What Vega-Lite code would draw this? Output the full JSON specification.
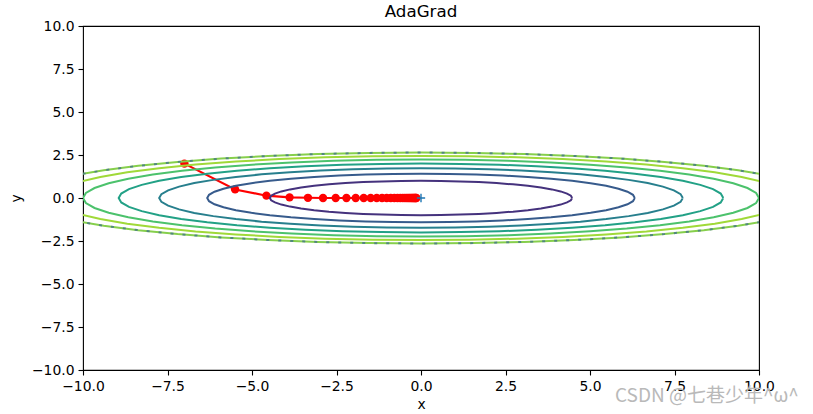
{
"$schema": "https://vega.github.io/schema/vega-lite/v6.json",
"autosize": {"type": "none"},
"padding": {"left": 83, "top": 26, "right": 54, "bottom": 44},
"width": 676,
"height": 344,
"background": "white",
"title": {"text": "AdaGrad", "font": "DejaVu Sans", "fontSize": 16.7, "fontWeight": "normal", "color": "black", "anchor": "middle", "frame": "group", "offset": -2},
"datasets": {
"path": [
{"k":0,"x":-7,"y":2},{"k":1,"x":-5.5,"y":0.5},{"k":2,"x":-4.5733,"y":0.1362},{"k":3,"x":-3.8879,"y":0.0373},{"k":4,"x":-3.3447,"y":0.0102},{"k":5,"x":-2.8986,"y":0.0028},{"k":6,"x":-2.5242,"y":0.0008},{"k":7,"x":-2.2056,"y":0.0002},{"k":8,"x":-1.9319,"y":0},{"k":9,"x":-1.6952,"y":0},{"k":10,"x":-1.4894,"y":0},{"k":11,"x":-1.3099,"y":0},{"k":12,"x":-1.1529,"y":0},{"k":13,"x":-1.0153,"y":0},{"k":14,"x":-0.8945,"y":0},{"k":15,"x":-0.7884,"y":0},{"k":16,"x":-0.695,"y":0},{"k":17,"x":-0.6128,"y":0},{"k":18,"x":-0.5404,"y":0},{"k":19,"x":-0.4766,"y":0},{"k":20,"x":-0.4204,"y":0},{"k":21,"x":-0.3709,"y":0},{"k":22,"x":-0.3272,"y":0},{"k":23,"x":-0.2887,"y":0},{"k":24,"x":-0.2547,"y":0},{"k":25,"x":-0.2247,"y":0},{"k":26,"x":-0.1983,"y":0},{"k":27,"x":-0.1749,"y":0},{"k":28,"x":-0.1543,"y":0},{"k":29,"x":-0.1362,"y":0}
],
"origin": [{"x":0,"y":0}],
"ell": [
{"c":1,"k":0,"x":4.472,"y":0},{"c":1,"k":1,"x":4.434,"y":0.131},{"c":1,"k":2,"x":4.32,"y":0.259},{"c":1,"k":3,"x":4.132,"y":0.383},{"c":1,"k":4,"x":3.873,"y":0.5},{"c":1,"k":5,"x":3.548,"y":0.609},{"c":1,"k":6,"x":3.162,"y":0.707},{"c":1,"k":7,"x":2.722,"y":0.793},{"c":1,"k":8,"x":2.236,"y":0.866},{"c":1,"k":9,"x":1.711,"y":0.924},{"c":1,"k":10,"x":1.157,"y":0.966},{"c":1,"k":11,"x":0.584,"y":0.991},{"c":1,"k":12,"x":0,"y":1},
{"c":1,"k":13,"x":-0.584,"y":0.991},{"c":1,"k":14,"x":-1.157,"y":0.966},{"c":1,"k":15,"x":-1.711,"y":0.924},{"c":1,"k":16,"x":-2.236,"y":0.866},{"c":1,"k":17,"x":-2.722,"y":0.793},{"c":1,"k":18,"x":-3.162,"y":0.707},{"c":1,"k":19,"x":-3.548,"y":0.609},{"c":1,"k":20,"x":-3.873,"y":0.5},{"c":1,"k":21,"x":-4.132,"y":0.383},{"c":1,"k":22,"x":-4.32,"y":0.259},{"c":1,"k":23,"x":-4.434,"y":0.131},{"c":1,"k":24,"x":-4.472,"y":0},
{"c":1,"k":25,"x":-4.434,"y":-0.131},{"c":1,"k":26,"x":-4.32,"y":-0.259},{"c":1,"k":27,"x":-4.132,"y":-0.383},{"c":1,"k":28,"x":-3.873,"y":-0.5},{"c":1,"k":29,"x":-3.548,"y":-0.609},{"c":1,"k":30,"x":-3.162,"y":-0.707},{"c":1,"k":31,"x":-2.722,"y":-0.793},{"c":1,"k":32,"x":-2.236,"y":-0.866},{"c":1,"k":33,"x":-1.711,"y":-0.924},{"c":1,"k":34,"x":-1.157,"y":-0.966},{"c":1,"k":35,"x":-0.584,"y":-0.991},{"c":1,"k":36,"x":0,"y":-1},
{"c":1,"k":37,"x":0.584,"y":-0.991},{"c":1,"k":38,"x":1.157,"y":-0.966},{"c":1,"k":39,"x":1.711,"y":-0.924},{"c":1,"k":40,"x":2.236,"y":-0.866},{"c":1,"k":41,"x":2.722,"y":-0.793},{"c":1,"k":42,"x":3.162,"y":-0.707},{"c":1,"k":43,"x":3.548,"y":-0.609},{"c":1,"k":44,"x":3.873,"y":-0.5},{"c":1,"k":45,"x":4.132,"y":-0.383},{"c":1,"k":46,"x":4.32,"y":-0.259},{"c":1,"k":47,"x":4.434,"y":-0.131},{"c":1,"k":48,"x":4.472,"y":0},

{"c":2,"k":0,"x":6.325,"y":0},{"c":2,"k":1,"x":6.271,"y":0.185},{"c":2,"k":2,"x":6.109,"y":0.366},{"c":2,"k":3,"x":5.843,"y":0.541},{"c":2,"k":4,"x":5.477,"y":0.707},{"c":2,"k":5,"x":5.018,"y":0.861},{"c":2,"k":6,"x":4.472,"y":1},{"c":2,"k":7,"x":3.85,"y":1.122},{"c":2,"k":8,"x":3.162,"y":1.225},{"c":2,"k":9,"x":2.42,"y":1.307},{"c":2,"k":10,"x":1.637,"y":1.366},{"c":2,"k":11,"x":0.826,"y":1.402},{"c":2,"k":12,"x":0,"y":1.414},
{"c":2,"k":13,"x":-0.826,"y":1.402},{"c":2,"k":14,"x":-1.637,"y":1.366},{"c":2,"k":15,"x":-2.42,"y":1.307},{"c":2,"k":16,"x":-3.162,"y":1.225},{"c":2,"k":17,"x":-3.85,"y":1.122},{"c":2,"k":18,"x":-4.472,"y":1},{"c":2,"k":19,"x":-5.018,"y":0.861},{"c":2,"k":20,"x":-5.477,"y":0.707},{"c":2,"k":21,"x":-5.843,"y":0.541},{"c":2,"k":22,"x":-6.109,"y":0.366},{"c":2,"k":23,"x":-6.271,"y":0.185},{"c":2,"k":24,"x":-6.325,"y":0},
{"c":2,"k":25,"x":-6.271,"y":-0.185},{"c":2,"k":26,"x":-6.109,"y":-0.366},{"c":2,"k":27,"x":-5.843,"y":-0.541},{"c":2,"k":28,"x":-5.477,"y":-0.707},{"c":2,"k":29,"x":-5.018,"y":-0.861},{"c":2,"k":30,"x":-4.472,"y":-1},{"c":2,"k":31,"x":-3.85,"y":-1.122},{"c":2,"k":32,"x":-3.162,"y":-1.225},{"c":2,"k":33,"x":-2.42,"y":-1.307},{"c":2,"k":34,"x":-1.637,"y":-1.366},{"c":2,"k":35,"x":-0.826,"y":-1.402},{"c":2,"k":36,"x":0,"y":-1.414},
{"c":2,"k":37,"x":0.826,"y":-1.402},{"c":2,"k":38,"x":1.637,"y":-1.366},{"c":2,"k":39,"x":2.42,"y":-1.307},{"c":2,"k":40,"x":3.162,"y":-1.225},{"c":2,"k":41,"x":3.85,"y":-1.122},{"c":2,"k":42,"x":4.472,"y":-1},{"c":2,"k":43,"x":5.018,"y":-0.861},{"c":2,"k":44,"x":5.477,"y":-0.707},{"c":2,"k":45,"x":5.843,"y":-0.541},{"c":2,"k":46,"x":6.109,"y":-0.366},{"c":2,"k":47,"x":6.271,"y":-0.185},{"c":2,"k":48,"x":6.325,"y":0},

{"c":3,"k":0,"x":7.746,"y":0},{"c":3,"k":1,"x":7.68,"y":0.226},{"c":3,"k":2,"x":7.482,"y":0.448},{"c":3,"k":3,"x":7.156,"y":0.663},{"c":3,"k":4,"x":6.708,"y":0.866},{"c":3,"k":5,"x":6.145,"y":1.054},{"c":3,"k":6,"x":5.477,"y":1.225},{"c":3,"k":7,"x":4.716,"y":1.374},{"c":3,"k":8,"x":3.873,"y":1.5},{"c":3,"k":9,"x":2.964,"y":1.6},{"c":3,"k":10,"x":2.005,"y":1.673},{"c":3,"k":11,"x":1.011,"y":1.717},{"c":3,"k":12,"x":0,"y":1.732},
{"c":3,"k":13,"x":-1.011,"y":1.717},{"c":3,"k":14,"x":-2.005,"y":1.673},{"c":3,"k":15,"x":-2.964,"y":1.6},{"c":3,"k":16,"x":-3.873,"y":1.5},{"c":3,"k":17,"x":-4.716,"y":1.374},{"c":3,"k":18,"x":-5.477,"y":1.225},{"c":3,"k":19,"x":-6.145,"y":1.054},{"c":3,"k":20,"x":-6.708,"y":0.866},{"c":3,"k":21,"x":-7.156,"y":0.663},{"c":3,"k":22,"x":-7.482,"y":0.448},{"c":3,"k":23,"x":-7.68,"y":0.226},{"c":3,"k":24,"x":-7.746,"y":0},
{"c":3,"k":25,"x":-7.68,"y":-0.226},{"c":3,"k":26,"x":-7.482,"y":-0.448},{"c":3,"k":27,"x":-7.156,"y":-0.663},{"c":3,"k":28,"x":-6.708,"y":-0.866},{"c":3,"k":29,"x":-6.145,"y":-1.054},{"c":3,"k":30,"x":-5.477,"y":-1.225},{"c":3,"k":31,"x":-4.716,"y":-1.374},{"c":3,"k":32,"x":-3.873,"y":-1.5},{"c":3,"k":33,"x":-2.964,"y":-1.6},{"c":3,"k":34,"x":-2.005,"y":-1.673},{"c":3,"k":35,"x":-1.011,"y":-1.717},{"c":3,"k":36,"x":0,"y":-1.732},
{"c":3,"k":37,"x":1.011,"y":-1.717},{"c":3,"k":38,"x":2.005,"y":-1.673},{"c":3,"k":39,"x":2.964,"y":-1.6},{"c":3,"k":40,"x":3.873,"y":-1.5},{"c":3,"k":41,"x":4.716,"y":-1.374},{"c":3,"k":42,"x":5.477,"y":-1.225},{"c":3,"k":43,"x":6.145,"y":-1.054},{"c":3,"k":44,"x":6.708,"y":-0.866},{"c":3,"k":45,"x":7.156,"y":-0.663},{"c":3,"k":46,"x":7.482,"y":-0.448},{"c":3,"k":47,"x":7.68,"y":-0.226},{"c":3,"k":48,"x":7.746,"y":0},

{"c":4,"k":0,"x":8.944,"y":0},{"c":4,"k":1,"x":8.868,"y":0.261},{"c":4,"k":2,"x":8.64,"y":0.518},{"c":4,"k":3,"x":8.263,"y":0.765},{"c":4,"k":4,"x":7.746,"y":1},{"c":4,"k":5,"x":7.096,"y":1.218},{"c":4,"k":6,"x":6.325,"y":1.414},{"c":4,"k":7,"x":5.445,"y":1.587},{"c":4,"k":8,"x":4.472,"y":1.732},{"c":4,"k":9,"x":3.423,"y":1.848},{"c":4,"k":10,"x":2.315,"y":1.932},{"c":4,"k":11,"x":1.168,"y":1.983},{"c":4,"k":12,"x":0,"y":2},
{"c":4,"k":13,"x":-1.168,"y":1.983},{"c":4,"k":14,"x":-2.315,"y":1.932},{"c":4,"k":15,"x":-3.423,"y":1.848},{"c":4,"k":16,"x":-4.472,"y":1.732},{"c":4,"k":17,"x":-5.445,"y":1.587},{"c":4,"k":18,"x":-6.325,"y":1.414},{"c":4,"k":19,"x":-7.096,"y":1.218},{"c":4,"k":20,"x":-7.746,"y":1},{"c":4,"k":21,"x":-8.263,"y":0.765},{"c":4,"k":22,"x":-8.64,"y":0.518},{"c":4,"k":23,"x":-8.868,"y":0.261},{"c":4,"k":24,"x":-8.944,"y":0},
{"c":4,"k":25,"x":-8.868,"y":-0.261},{"c":4,"k":26,"x":-8.64,"y":-0.518},{"c":4,"k":27,"x":-8.263,"y":-0.765},{"c":4,"k":28,"x":-7.746,"y":-1},{"c":4,"k":29,"x":-7.096,"y":-1.218},{"c":4,"k":30,"x":-6.325,"y":-1.414},{"c":4,"k":31,"x":-5.445,"y":-1.587},{"c":4,"k":32,"x":-4.472,"y":-1.732},{"c":4,"k":33,"x":-3.423,"y":-1.848},{"c":4,"k":34,"x":-2.315,"y":-1.932},{"c":4,"k":35,"x":-1.168,"y":-1.983},{"c":4,"k":36,"x":0,"y":-2},
{"c":4,"k":37,"x":1.168,"y":-1.983},{"c":4,"k":38,"x":2.315,"y":-1.932},{"c":4,"k":39,"x":3.423,"y":-1.848},{"c":4,"k":40,"x":4.472,"y":-1.732},{"c":4,"k":41,"x":5.445,"y":-1.587},{"c":4,"k":42,"x":6.325,"y":-1.414},{"c":4,"k":43,"x":7.096,"y":-1.218},{"c":4,"k":44,"x":7.746,"y":-1},{"c":4,"k":45,"x":8.263,"y":-0.765},{"c":4,"k":46,"x":8.64,"y":-0.518},{"c":4,"k":47,"x":8.868,"y":-0.261},{"c":4,"k":48,"x":8.944,"y":0},

{"c":5,"k":0,"x":10,"y":0},{"c":5,"k":1,"x":9.914,"y":0.292},{"c":5,"k":2,"x":9.659,"y":0.579},{"c":5,"k":3,"x":9.239,"y":0.856},{"c":5,"k":4,"x":8.66,"y":1.118},{"c":5,"k":5,"x":7.934,"y":1.361},{"c":5,"k":6,"x":7.071,"y":1.581},{"c":5,"k":7,"x":6.088,"y":1.774},{"c":5,"k":8,"x":5,"y":1.937},{"c":5,"k":9,"x":3.827,"y":2.066},{"c":5,"k":10,"x":2.588,"y":2.16},{"c":5,"k":11,"x":1.305,"y":2.217},{"c":5,"k":12,"x":0,"y":2.236},
{"c":5,"k":13,"x":-1.305,"y":2.217},{"c":5,"k":14,"x":-2.588,"y":2.16},{"c":5,"k":15,"x":-3.827,"y":2.066},{"c":5,"k":16,"x":-5,"y":1.937},{"c":5,"k":17,"x":-6.088,"y":1.774},{"c":5,"k":18,"x":-7.071,"y":1.581},{"c":5,"k":19,"x":-7.934,"y":1.361},{"c":5,"k":20,"x":-8.66,"y":1.118},{"c":5,"k":21,"x":-9.239,"y":0.856},{"c":5,"k":22,"x":-9.659,"y":0.579},{"c":5,"k":23,"x":-9.914,"y":0.292},{"c":5,"k":24,"x":-10,"y":0},
{"c":5,"k":25,"x":-9.914,"y":-0.292},{"c":5,"k":26,"x":-9.659,"y":-0.579},{"c":5,"k":27,"x":-9.239,"y":-0.856},{"c":5,"k":28,"x":-8.66,"y":-1.118},{"c":5,"k":29,"x":-7.934,"y":-1.361},{"c":5,"k":30,"x":-7.071,"y":-1.581},{"c":5,"k":31,"x":-6.088,"y":-1.774},{"c":5,"k":32,"x":-5,"y":-1.937},{"c":5,"k":33,"x":-3.827,"y":-2.066},{"c":5,"k":34,"x":-2.588,"y":-2.16},{"c":5,"k":35,"x":-1.305,"y":-2.217},{"c":5,"k":36,"x":0,"y":-2.236},
{"c":5,"k":37,"x":1.305,"y":-2.217},{"c":5,"k":38,"x":2.588,"y":-2.16},{"c":5,"k":39,"x":3.827,"y":-2.066},{"c":5,"k":40,"x":5,"y":-1.937},{"c":5,"k":41,"x":6.088,"y":-1.774},{"c":5,"k":42,"x":7.071,"y":-1.581},{"c":5,"k":43,"x":7.934,"y":-1.361},{"c":5,"k":44,"x":8.66,"y":-1.118},{"c":5,"k":45,"x":9.239,"y":-0.856},{"c":5,"k":46,"x":9.659,"y":-0.579},{"c":5,"k":47,"x":9.914,"y":-0.292},{"c":5,"k":48,"x":10,"y":0},

{"c":6,"k":0,"x":10.954,"y":0},{"c":6,"k":1,"x":10.861,"y":0.32},{"c":6,"k":2,"x":10.581,"y":0.634},{"c":6,"k":3,"x":10.121,"y":0.937},{"c":6,"k":4,"x":9.487,"y":1.225},{"c":6,"k":5,"x":8.691,"y":1.491},{"c":6,"k":6,"x":7.746,"y":1.732},{"c":6,"k":7,"x":6.669,"y":1.943},{"c":6,"k":8,"x":5.477,"y":2.121},{"c":6,"k":9,"x":4.192,"y":2.263},{"c":6,"k":10,"x":2.835,"y":2.366},{"c":6,"k":11,"x":1.43,"y":2.429},{"c":6,"k":12,"x":0,"y":2.449},
{"c":6,"k":13,"x":-1.43,"y":2.429},{"c":6,"k":14,"x":-2.835,"y":2.366},{"c":6,"k":15,"x":-4.192,"y":2.263},{"c":6,"k":16,"x":-5.477,"y":2.121},{"c":6,"k":17,"x":-6.669,"y":1.943},{"c":6,"k":18,"x":-7.746,"y":1.732},{"c":6,"k":19,"x":-8.691,"y":1.491},{"c":6,"k":20,"x":-9.487,"y":1.225},{"c":6,"k":21,"x":-10.121,"y":0.937},{"c":6,"k":22,"x":-10.581,"y":0.634},{"c":6,"k":23,"x":-10.861,"y":0.32},{"c":6,"k":24,"x":-10.954,"y":0},
{"c":6,"k":25,"x":-10.861,"y":-0.32},{"c":6,"k":26,"x":-10.581,"y":-0.634},{"c":6,"k":27,"x":-10.121,"y":-0.937},{"c":6,"k":28,"x":-9.487,"y":-1.225},{"c":6,"k":29,"x":-8.691,"y":-1.491},{"c":6,"k":30,"x":-7.746,"y":-1.732},{"c":6,"k":31,"x":-6.669,"y":-1.943},{"c":6,"k":32,"x":-5.477,"y":-2.121},{"c":6,"k":33,"x":-4.192,"y":-2.263},{"c":6,"k":34,"x":-2.835,"y":-2.366},{"c":6,"k":35,"x":-1.43,"y":-2.429},{"c":6,"k":36,"x":0,"y":-2.449},
{"c":6,"k":37,"x":1.43,"y":-2.429},{"c":6,"k":38,"x":2.835,"y":-2.366},{"c":6,"k":39,"x":4.192,"y":-2.263},{"c":6,"k":40,"x":5.477,"y":-2.121},{"c":6,"k":41,"x":6.669,"y":-1.943},{"c":6,"k":42,"x":7.746,"y":-1.732},{"c":6,"k":43,"x":8.691,"y":-1.491},{"c":6,"k":44,"x":9.487,"y":-1.225},{"c":6,"k":45,"x":10.121,"y":-0.937},{"c":6,"k":46,"x":10.581,"y":-0.634},{"c":6,"k":47,"x":10.861,"y":-0.32},{"c":6,"k":48,"x":10.954,"y":0}
],
"bnd": [
{"k":0,"x":11.832,"y":0},{"k":1,"x":11.731,"y":0.345},{"k":2,"x":11.429,"y":0.685},{"k":3,"x":10.932,"y":1.013},{"k":4,"x":10.247,"y":1.323},{"k":5,"x":9.387,"y":1.611},{"k":6,"x":8.367,"y":1.871},{"k":7,"x":7.203,"y":2.099},{"k":8,"x":5.916,"y":2.291},{"k":9,"x":4.528,"y":2.444},{"k":10,"x":3.062,"y":2.556},{"k":11,"x":1.545,"y":2.623},{"k":12,"x":0,"y":2.646},
{"k":13,"x":-1.545,"y":2.623},{"k":14,"x":-3.062,"y":2.556},{"k":15,"x":-4.528,"y":2.444},{"k":16,"x":-5.916,"y":2.291},{"k":17,"x":-7.203,"y":2.099},{"k":18,"x":-8.367,"y":1.871},{"k":19,"x":-9.387,"y":1.611},{"k":20,"x":-10.247,"y":1.323},{"k":21,"x":-10.932,"y":1.013},{"k":22,"x":-11.429,"y":0.685},{"k":23,"x":-11.731,"y":0.345},{"k":24,"x":-11.832,"y":0},
{"k":25,"x":-11.731,"y":-0.345},{"k":26,"x":-11.429,"y":-0.685},{"k":27,"x":-10.932,"y":-1.013},{"k":28,"x":-10.247,"y":-1.323},{"k":29,"x":-9.387,"y":-1.611},{"k":30,"x":-8.367,"y":-1.871},{"k":31,"x":-7.203,"y":-2.099},{"k":32,"x":-5.916,"y":-2.291},{"k":33,"x":-4.528,"y":-2.444},{"k":34,"x":-3.062,"y":-2.556},{"k":35,"x":-1.545,"y":-2.623},{"k":36,"x":0,"y":-2.646},
{"k":37,"x":1.545,"y":-2.623},{"k":38,"x":3.062,"y":-2.556},{"k":39,"x":4.528,"y":-2.444},{"k":40,"x":5.916,"y":-2.291},{"k":41,"x":7.203,"y":-2.099},{"k":42,"x":8.367,"y":-1.871},{"k":43,"x":9.387,"y":-1.611},{"k":44,"x":10.247,"y":-1.323},{"k":45,"x":10.932,"y":-1.013},{"k":46,"x":11.429,"y":-0.685},{"k":47,"x":11.731,"y":-0.345},{"k":48,"x":11.832,"y":0}
],
"wm": [{"x":11.18,"y":-11.85,"t":"CSDN @七巷少年^ω^"}]
},
"encoding": {
"x": {"field": "x", "type": "quantitative", "scale": {"domain": [-10, 10], "nice": false, "zero": false},
 "axis": {"title": "x", "values": [-10, -7.5, -5, -2.5, 0, 2.5, 5, 7.5, 10], "format": ".1f", "labelFlush": false, "labelOverlap": false, "titlePadding": 5}},
"y": {"field": "y", "type": "quantitative", "scale": {"domain": [-10, 10], "nice": false, "zero": false},
 "axis": {"title": "y", "values": [-10, -7.5, -5, -2.5, 0, 2.5, 5, 7.5, 10], "format": ".1f", "labelOverlap": false, "titlePadding": 8}}
},
"layer": [
{"data": {"name": "wm"}, "mark": {"type": "text", "align": "right", "baseline": "alphabetic", "font": "Noto Sans CJK SC", "fontSize": 19, "color": "#b9b9b9", "clip": false},
 "encoding": {"text": {"field": "t"}}},
{"data": {"name": "path"}, "mark": {"type": "line", "color": "#ff0000", "strokeWidth": 2.08, "point": {"filled": true, "size": 70, "color": "#ff0000"}},
 "encoding": {"order": {"field": "k", "type": "quantitative"}}},
{"data": {"name": "origin"}, "mark": {"type": "point", "shape": "M-1,0L1,0M0,-1L0,1", "filled": false, "stroke": "#1f77b4", "strokeWidth": 1.4, "size": 69, "opacity": 1}},
{"data": {"name": "ell"}, "mark": {"type": "line", "strokeWidth": 2, "clip": true},
 "encoding": {"order": {"field": "k", "type": "quantitative"},
  "color": {"field": "c", "type": "ordinal", "legend": null, "scale": {"domain": [1, 2, 3, 4, 5, 6], "range": ["#45327d", "#375b8c", "#277f8d", "#22a186", "#4cc26c", "#a0d938"]}}}},
{"data": {"name": "bnd"}, "mark": {"type": "line", "strokeWidth": 2, "clip": true, "color": "#86cf4c"},
 "encoding": {"order": {"field": "k", "type": "quantitative"}}},
{"data": {"name": "bnd"}, "mark": {"type": "line", "strokeWidth": 2, "clip": true, "color": "#3f6f8c", "strokeDash": [3, 9], "opacity": 0.75},
 "encoding": {"order": {"field": "k", "type": "quantitative"}}}
],
"config": {
"view": {"stroke": "black", "strokeWidth": 1.1},
"axis": {"domain": false, "grid": false, "ticks": true, "tickColor": "black", "tickWidth": 1.1, "tickSize": 5, "labelPadding": 4, "labelFont": "DejaVu Sans", "labelFontSize": 13.9, "labelColor": "black", "titleFont": "DejaVu Sans", "titleFontSize": 13.9, "titleFontWeight": "normal", "titleColor": "black", "zindex": 1}
}
}
